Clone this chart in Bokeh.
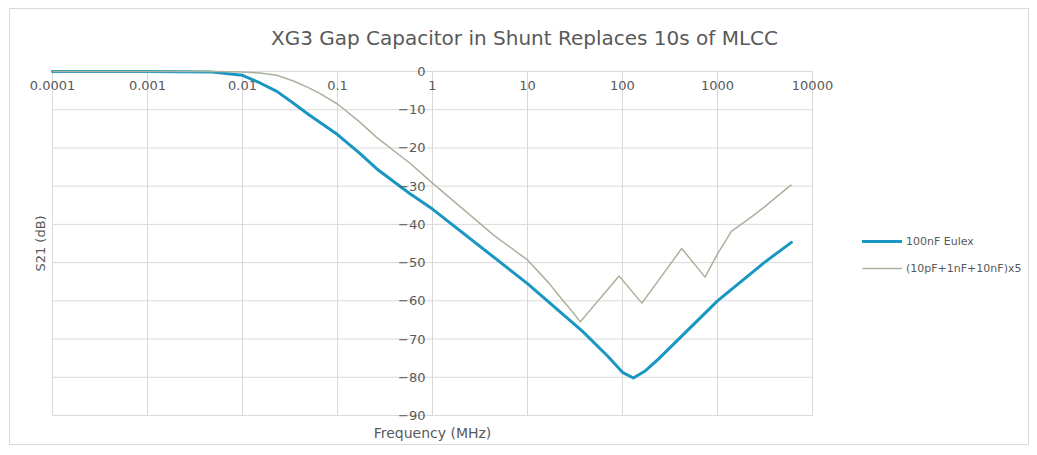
import math
from bokeh.plotting import figure
from bokeh.models import FixedTicker, Legend, LegendItem, Label
from bokeh.embed import file_html
from bokeh.resources import INLINE

# ---- data ----
x_ticks = [0.0001, 0.001, 0.01, 0.1, 1.0, 10.0, 100.0, 1000.0, 10000.0]
x_tick_labels = ["0.0001", "0.001", "0.01", "0.1", "1", "10", "100", "1000", "10000"]
y_ticks = [0, -10, -20, -30, -40, -50, -60, -70, -80, -90]

eulex_name = "100nF Eulex"
eulex_freq = [0.0001, 0.001, 0.00456, 0.01, 0.0153, 0.023, 0.0344, 0.05, 0.1, 0.173,
              0.26, 0.58, 1, 10, 38, 70, 100, 130, 170, 240, 1000, 3100, 6000]
eulex_db = [0, 0, -0.1, -1.0, -3.0, -5.2, -8.3, -11.3, -16.5, -21.5,
            -25.5, -32, -36, -55.5, -68, -74.5, -78.7, -80.2, -78.5, -75.2, -60, -50, -44.7]

mlcc_name = "(10pF+1nF+10nF)x5"
mlcc_freq = [0.0001, 0.001, 0.005, 0.01, 0.0153, 0.023, 0.0344, 0.05, 0.0657, 0.1, 0.173,
             0.26, 0.58, 1, 4.5, 10, 17, 22, 30, 36, 92, 160, 420, 740, 1000, 1400,
             2100, 3100, 6000]
mlcc_db = [0, 0, 0, -0.1, -0.4, -1.0, -2.5, -4.3, -5.8, -8.5, -13.3,
           -17.3, -24.0, -29.2, -43, -49.3, -55.5, -59, -63, -65.5, -53.5, -60.6, -46.3, -53.8, -47.7, -41.8,
           -38.7, -35.5, -29.6]

title_text = "XG3 Gap Capacitor in Shunt Replaces 10s of MLCC"
x_title = "Frequency (MHz)"
y_title = "S21 (dB)"

FONT = "DejaVu Sans"
TXT = "#595959"
GRID = "#d9d9d9"

# ---- layout (pixels) ----
W, H = 1020, 437              # canvas
PL, PR, PT, PB = 42, 218, 62, 31   # plot-area insets inside the canvas
decade_px = (W - PL - PR) / (math.log10(x_ticks[-1]) - math.log10(x_ticks[0]))
db_px = (H - PT - PB) / (y_ticks[0] - y_ticks[-1])
x_lo = 10 ** (math.log10(x_ticks[0]) - PL / decade_px)
x_hi = 10 ** (math.log10(x_ticks[-1]) + PR / decade_px)
y_lo = y_ticks[-1] - PB / db_px
y_hi = y_ticks[0] + PT / db_px

p = figure(width=W, height=H, x_axis_type="log",
           x_range=(x_lo, x_hi), y_range=(y_lo, y_hi),
           output_backend="svg", toolbar_location=None,
           min_border_left=0, min_border_right=0, min_border_top=0, min_border_bottom=0)
p.min_border = 0
p.outline_line_color = None
p.background_fill_color = "white"
p.border_fill_color = "white"
p.styles = {"border": "1px solid #d9d9d9", "margin-left": "9px", "margin-top": "8px"}
p.grid.visible = False

# grid lines limited to the plot area
n_x, n_y = len(x_ticks), len(y_ticks)
p.segment(x0=x_ticks, y0=[y_ticks[-1]] * n_x, x1=x_ticks, y1=[y_ticks[0]] * n_x,
          line_color=GRID, line_width=1)
p.segment(x0=[x_ticks[0]] * n_y, y0=y_ticks, x1=[x_ticks[-1]] * n_y, y1=y_ticks,
          line_color=GRID, line_width=1)

# axes crossing inside the plot (Excel style)
xa = p.xaxis[0]
xa.fixed_location = 0
xa.ticker = FixedTicker(ticks=x_ticks)
xa.major_label_overrides = {t: l for t, l in zip(x_ticks, x_tick_labels)}
ya = p.yaxis[0]
ya.fixed_location = 1
ya.ticker = FixedTicker(ticks=y_ticks)
for ax in (xa, ya):
    ax.axis_line_color = None
    ax.major_tick_line_color = None
    ax.minor_tick_line_color = None
    ax.major_tick_out = 0
    ax.major_tick_in = 0
    ax.major_label_text_font = FONT
    ax.major_label_text_font_size = "13px"
    ax.major_label_text_color = TXT
xa.major_label_standoff = 9
ya.major_label_standoff = 7

r1 = p.line(eulex_freq, eulex_db, line_color="#1996c2", line_width=3, line_join="round", line_cap="round")
r2 = p.line(mlcc_freq, mlcc_db, line_color="#a7b39c", line_width=1.5, line_join="round")

legend = Legend(items=[LegendItem(label=eulex_name, renderers=[r1]),
                       LegendItem(label=mlcc_name, renderers=[r2])],
                location=(852, 168), glyph_width=40, glyph_height=20, label_height=20,
                spacing=7, padding=0, margin=0, border_line_color=None,
                background_fill_alpha=0, label_text_font=FONT, label_text_font_size="11px",
                label_text_color=TXT, label_standoff=4)
p.add_layout(legend)

p.add_layout(Label(x=514, y=409, x_units="screen", y_units="screen", text=title_text,
                   text_align="center", text_baseline="middle", text_font=FONT,
                   text_font_size="20px", text_color=TXT))
p.add_layout(Label(x=422, y=14, x_units="screen", y_units="screen", text=x_title,
                   text_align="center", text_baseline="middle", text_font=FONT,
                   text_font_size="14px", text_color=TXT))
p.add_layout(Label(x=30, y=203, x_units="screen", y_units="screen", text=y_title,
                   angle=math.pi / 2, text_align="center", text_baseline="middle",
                   text_font=FONT, text_font_size="13px", text_color=TXT))

open("out.html", "w").write(file_html(p, INLINE))
